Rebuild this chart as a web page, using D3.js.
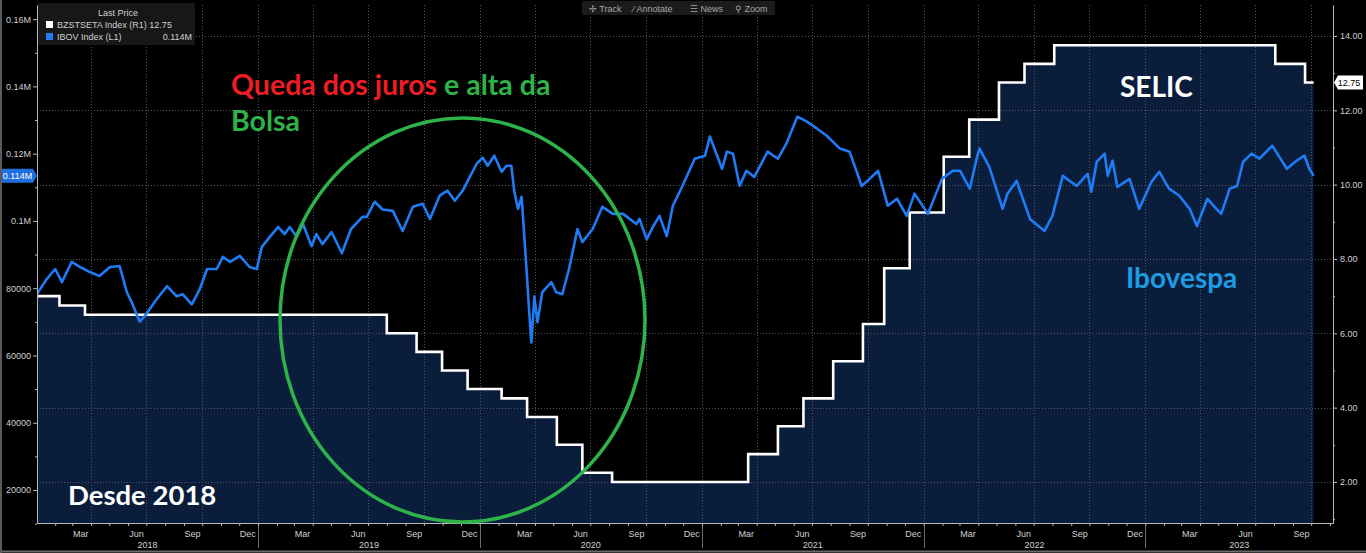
<!DOCTYPE html>
<html><head><meta charset="utf-8">
<script src="https://cdn.jsdelivr.net/npm/d3@7"></script>
<style>
html,body{margin:0;padding:0;background:#000;overflow:hidden}
svg{display:block}
</style></head><body>
<svg id="c" width="1366" height="553"></svg>
<script>
// ---------- DATA ----------
const selicDates = ["2018-01-02","2018-02-08","2018-03-22","2019-08-01","2019-09-19","2019-10-31","2019-12-12","2020-02-06","2020-03-19","2020-05-07","2020-06-18","2020-08-06","2021-03-18","2021-05-06","2021-06-17","2021-08-05","2021-09-23","2021-10-28","2021-12-09","2022-02-03","2022-03-17","2022-05-05","2022-06-16","2022-08-04","2023-08-03","2023-09-21","2023-10-05"];
const selicValues = [7.00,6.75,6.50,6.00,5.50,5.00,4.50,4.25,3.75,3.00,2.25,2.00,2.75,3.50,4.25,5.25,6.25,7.75,9.25,10.75,11.75,12.75,13.25,13.75,13.25,12.75,12.75];

const ibovDates = ["2018-01-02","2018-01-18","2018-02-01","2018-02-12","2018-02-28","2018-03-14","2018-03-30","2018-04-15","2018-05-02","2018-05-18","2018-05-30","2018-06-07","2018-06-20","2018-06-28","2018-07-18","2018-08-04","2018-08-20","2018-08-30","2018-09-14","2018-09-27","2018-10-09","2018-10-25","2018-11-04","2018-11-16","2018-12-02","2018-12-18","2018-12-30",
"2019-01-07","2019-01-20","2019-02-03","2019-02-14","2019-02-22","2019-03-06","2019-03-16","2019-03-30","2019-04-07","2019-04-17","2019-05-02","2019-05-19","2019-06-03","2019-06-22","2019-06-29","2019-07-12","2019-07-25","2019-08-11","2019-08-27","2019-09-13","2019-09-29","2019-10-11","2019-10-27","2019-11-09","2019-11-21","2019-12-04","2019-12-27",
"2020-01-06","2020-01-14","2020-01-25","2020-02-06","2020-02-14","2020-02-22","2020-02-27","2020-03-04","2020-03-10","2020-03-18","2020-03-23","2020-03-26","2020-03-31","2020-04-05","2020-04-13","2020-04-28","2020-05-06","2020-05-16","2020-05-27","2020-06-10","2020-06-18","2020-07-05","2020-07-21","2020-08-07","2020-08-24","2020-09-15","2020-09-20","2020-10-02","2020-10-12","2020-10-23","2020-11-04","2020-11-14","2020-11-29","2020-12-20",
"2021-01-06","2021-01-14","2021-02-03","2021-02-11","2021-02-21","2021-03-04","2021-03-15","2021-03-28","2021-04-19","2021-05-06","2021-05-20","2021-06-07","2021-06-22","2021-07-09","2021-07-25","2021-08-16","2021-09-01","2021-09-21","2021-10-04","2021-10-18","2021-11-03","2021-11-18","2021-12-04","2021-12-17",
"2022-01-08","2022-01-31","2022-02-18","2022-03-02","2022-03-18","2022-03-30","2022-04-03","2022-04-19","2022-05-11","2022-05-19","2022-06-03","2022-06-25","2022-07-19","2022-08-01","2022-08-18","2022-09-10","2022-09-28","2022-10-04","2022-10-13","2022-10-26","2022-10-31","2022-11-08","2022-11-16","2022-12-06","2022-12-22",
"2023-01-11","2023-01-24","2023-02-09","2023-02-26","2023-03-15","2023-03-27","2023-04-13","2023-04-28","2023-05-06","2023-05-20","2023-06-01","2023-06-11","2023-06-25","2023-07-08","2023-07-29","2023-08-22","2023-09-07","2023-09-20","2023-09-28","2023-10-05"];
const ibovValues = [78300,82700,85700,81800,87800,86300,84800,83600,86300,86600,78800,75800,70100,71600,76700,80600,77600,78200,75200,79700,85700,85700,89300,87800,89600,86300,85700,
92200,95200,98200,96100,98200,95200,99100,92500,96100,93100,96700,90400,97600,101200,101200,105700,103400,103000,97000,104200,105100,100600,107500,109000,106000,109000,117000,
118800,116400,119400,114600,116400,116400,108700,103600,107200,85700,71600,63900,77600,69900,78800,81800,78800,78200,85700,97600,93700,97600,104200,102100,102100,99100,100600,94500,98200,101500,95500,104500,110100,118500,
119400,125100,115500,120600,120000,110400,114900,113100,120600,118500,123000,131000,129600,127500,125400,121500,120600,110400,112500,114900,104500,106600,101500,108100,
102100,112500,114900,114900,109600,119100,121500,116100,103600,108100,111900,100600,97000,101500,113400,110400,114000,108700,117600,120000,113400,117900,110100,112500,103600,
111600,114600,109600,107500,103600,98500,106600,103600,102100,109600,110400,117600,120000,118500,122400,115500,117900,119400,115500,113400];

const leftTickValues = [20000,40000,60000,80000,100000,120000,140000,160000];
const leftTickLabels = ["20000","40000","60000","80000","0.1M","0.12M","0.14M","0.16M"];
const leftMinorTicks = [10000,30000,50000,70000,90000,110000,130000,150000];
const rightTickValues = [2,4,6,8,10,12,14];
const rightTickLabels = ["2.00","4.00","6.00","8.00","10.00","12.00","14.00"];
const rightMinorTicks = [1,3,5,7,9,11,13];
const monthLabelNames = ["Mar","Jun","Sep","Dec"];
const yearLabels = ["2018","2019","2020","2021","2022","2023"];
const legendTitle = "Last Price";
const legendRows = [["BZSTSETA Index  (R1) 12.75",""],["IBOV Index  (L1)","0.114M"]];
const lastIbovLabel = "0.114M";
const lastSelicLabel = "12.75";
const toolbarItems = ["✢ Track","⁄ Annotate","☰ News","⚲ Zoom"];

// ---------- SETUP ----------
const parse = d3.utcParse("%Y-%m-%d");
const selic = selicDates.map((d,i)=>({date:parse(d), v:selicValues[i]}));
const ibov = ibovDates.map((d,i)=>({date:parse(d), v:ibovValues[i]}));

const L = 37, R = 1333, T = 5, B = 523;
const svg = d3.select("#c");
const x = d3.scaleUtc().domain([parse("2018-01-02"), parse("2023-11-06")]).range([L, R]);
const yL = d3.scaleLinear().domain([10197, 164195]).range([B, T]);
const yR = d3.scaleLinear().domain([0.896, 14.834]).range([B, T]);

const axisFont = "'Liberation Sans', Arial, sans-serif";
const annFont = "Lato, 'Open Sans', sans-serif";

svg.append("rect").attr("width",1366).attr("height",553).attr("fill","#000");

svg.append("defs").append("clipPath").attr("id","clip")
  .append("rect").attr("x",L).attr("y",T).attr("width",R-L).attr("height",B-T);

const plot = svg.append("g").attr("clip-path","url(#clip)");

// Selic area fill
plot.append("path").datum(selic)
  .attr("fill","#0a1e3c")
  .attr("d", d3.area().curve(d3.curveStepAfter).x(d=>x(d.date)).y0(B).y1(d=>yR(d.v)));

// gridlines
const quarters = d3.utcMonth.every(3).range(parse("2018-04-01"), parse("2023-11-01"));
plot.append("g").selectAll("line").data(quarters).join("line")
  .attr("x1",d=>Math.round(x(d))+0.5).attr("x2",d=>Math.round(x(d))+0.5)
  .attr("y1",T).attr("y2",B)
  .attr("stroke","#50565e").attr("stroke-width",1).attr("stroke-dasharray","1,2");
plot.append("g").selectAll("line").data(rightTickValues).join("line")
  .attr("x1",L).attr("x2",R)
  .attr("y1",d=>Math.round(yR(d))+0.5).attr("y2",d=>Math.round(yR(d))+0.5)
  .attr("stroke","#50565e").attr("stroke-width",1).attr("stroke-dasharray","1,2");

// Selic line
plot.append("path").datum(selic)
  .attr("fill","none").attr("stroke","#ffffff").attr("stroke-width",2.6)
  .attr("d", d3.line().curve(d3.curveStepAfter).x(d=>x(d.date)).y(d=>yR(d.v)));

// Ibov line
plot.append("path").datum(ibov)
  .attr("fill","none").attr("stroke","#1f7cf4").attr("stroke-width",2.6)
  .attr("stroke-linejoin","round")
  .attr("d", d3.line().x(d=>x(d.date)).y(d=>yL(d.v)));

// ---------- AXES ----------
function styleAxis(g){
  g.selectAll(".domain").attr("stroke","#b8b8b8");
  g.selectAll(".tick line").attr("stroke","#b8b8b8");
  g.selectAll("text").attr("fill","#d0d0d0").attr("font-family",axisFont).attr("font-size",9);
}
const gL = svg.append("g").attr("transform",`translate(${L},0)`)
  .call(d3.axisLeft(yL).tickValues(leftTickValues).tickFormat((d,i)=>leftTickLabels[i]).tickSize(4).tickSizeOuter(0).tickPadding(2));
styleAxis(gL);
svg.append("g").attr("transform",`translate(${L},0)`)
  .call(d3.axisLeft(yL).tickValues(leftMinorTicks).tickFormat("").tickSize(2).tickSizeOuter(0))
  .call(styleAxis);

const gR = svg.append("g").attr("transform",`translate(${R},0)`)
  .call(d3.axisRight(yR).tickValues(rightTickValues).tickFormat((d,i)=>rightTickLabels[i]).tickSize(4).tickSizeOuter(0).tickPadding(3));
styleAxis(gR);
svg.append("g").attr("transform",`translate(${R},0)`)
  .call(d3.axisRight(yR).tickValues(rightMinorTicks).tickFormat("").tickSize(2).tickSizeOuter(0))
  .call(styleAxis);

const gB = svg.append("g").attr("transform",`translate(0,${B})`)
  .call(d3.axisBottom(x).ticks(d3.utcMonth.every(1)).tickFormat("").tickSize(3).tickSizeOuter(0));
styleAxis(gB);

// month labels at mid-month
const labelMonths = d3.utcMonth.range(parse("2018-01-01"), parse("2023-11-01")).filter(d=>[2,5,8,11].includes(d.getUTCMonth()));
svg.append("g").selectAll("text").data(labelMonths).join("text")
  .attr("x",d=>x(d3.utcDay.offset(d,14))).attr("y",B+14)
  .attr("text-anchor","middle").attr("fill","#d0d0d0")
  .attr("font-family",axisFont).attr("font-size",9)
  .text(d=>monthLabelNames[[2,5,8,11].indexOf(d.getUTCMonth())]);

// year separators and labels
const yearStarts = yearLabels.map(y=>parse(y+"-01-01"));
svg.append("g").selectAll("line").data(yearStarts.slice(1)).join("line")
  .attr("x1",d=>Math.round(x(d))+0.5).attr("x2",d=>Math.round(x(d))+0.5)
  .attr("y1",B+3).attr("y2",B+25).attr("stroke","#6a6a6a");
svg.append("g").selectAll("text").data(yearLabels).join("text")
  .attr("x",(d,i)=>{
    const a = Math.max(L, x(yearStarts[i]));
    const b = i < yearLabels.length-1 ? x(yearStarts[i+1]) : R;
    return (a+b)/2;
  })
  .attr("y",B+25).attr("text-anchor","middle").attr("fill","#d0d0d0")
  .attr("font-family",axisFont).attr("font-size",9).text(d=>d);

// frame lines
svg.append("line").attr("x1",0).attr("x2",1366).attr("y1",551.5).attr("y2",551.5).attr("stroke","#6b6b6b").attr("stroke-width",2);
svg.append("line").attr("x1",1).attr("x2",1).attr("y1",0).attr("y2",553).attr("stroke","#5a5a5a").attr("stroke-width",2);

// last value labels
const lastIbov = ibov[ibov.length-1].v, lastSelic = selic[selic.length-1].v;
const yi = yL(lastIbov);
svg.append("path").attr("d",`M2,${yi-7} L33,${yi-7} L37,${yi} L33,${yi+7} L2,${yi+7} Z`).attr("fill","#1f6fe0");
svg.append("text").attr("x",17.5).attr("y",yi+3.2).attr("text-anchor","middle").attr("fill","#fff")
  .attr("font-family",axisFont).attr("font-size",9).text(lastIbovLabel);
const ys = yR(lastSelic);
svg.append("path").attr("d",`M${R+1},${ys} L${R+5},${ys-7} L1363,${ys-7} L1363,${ys+7} L${R+5},${ys+7} Z`).attr("fill","#ffffff");
svg.append("text").attr("x",1349).attr("y",ys+3.2).attr("text-anchor","middle").attr("fill","#000")
  .attr("font-family",axisFont).attr("font-size",9).text(lastSelicLabel);

// legend
const lg = svg.append("g");
lg.append("rect").attr("x",38).attr("y",3).attr("width",157).attr("height",42).attr("fill","#171717");
lg.append("text").attr("x",118).attr("y",16).attr("text-anchor","middle").attr("fill","#cfcfcf")
  .attr("font-family",axisFont).attr("font-size",9).text(legendTitle);
const legendColors = ["#ffffff","#1f7cf4"];
legendRows.forEach((r,i)=>{
  const yy = 28 + i*12;
  lg.append("rect").attr("x",46).attr("y",yy-7).attr("width",7).attr("height",7).attr("fill",legendColors[i]);
  lg.append("text").attr("x",57).attr("y",yy).attr("fill","#cfcfcf").attr("font-family",axisFont).attr("font-size",9).text(r[0]);
  if (r[1]) lg.append("text").attr("x",192).attr("y",yy).attr("text-anchor","end").attr("fill","#cfcfcf").attr("font-family",axisFont).attr("font-size",9).text(r[1]);
});

// toolbar
const tb = svg.append("g");
tb.append("rect").attr("x",582).attr("y",1).attr("width",193).attr("height",14).attr("fill","#1b1b1b");
const tbX = [589, 633, 690, 735];
toolbarItems.forEach((t,i)=>{
  tb.append("text").attr("x",tbX[i]).attr("y",11.5).attr("fill","#a8a8a8").attr("font-family",axisFont).attr("font-size",9).text(t);
});

// annotations
const q = svg.append("text").attr("x",231).attr("y",95).attr("font-family",annFont).attr("font-weight",700).attr("font-size",28.5);
q.append("tspan").attr("fill","#ee1d24").text("Queda dos juros ");
q.append("tspan").attr("fill","#2eb34b").text("e alta da");
svg.append("text").attr("x",231).attr("y",131).attr("font-family",annFont).attr("font-weight",700).attr("font-size",28.5).attr("fill","#2eb34b").text("Bolsa");
svg.append("text").attr("x",1120).attr("y",97).attr("font-family",annFont).attr("font-weight",700).attr("font-size",28).attr("fill","#ffffff").text("SELIC");
svg.append("text").attr("x",1126).attr("y",288).attr("font-family",annFont).attr("font-weight",700).attr("font-size",28).attr("fill","#1e9be2").text("Ibovespa");
svg.append("text").attr("x",68).attr("y",505).attr("font-family",annFont).attr("font-weight",700).attr("font-size",27.5).attr("fill","#ffffff").text("Desde 2018");

// circle
svg.append("ellipse").attr("cx",462.5).attr("cy",320).attr("rx",182.5).attr("ry",202)
  .attr("fill","none").attr("stroke","#2db34a").attr("stroke-width",3.5);
</script>
</body></html>
